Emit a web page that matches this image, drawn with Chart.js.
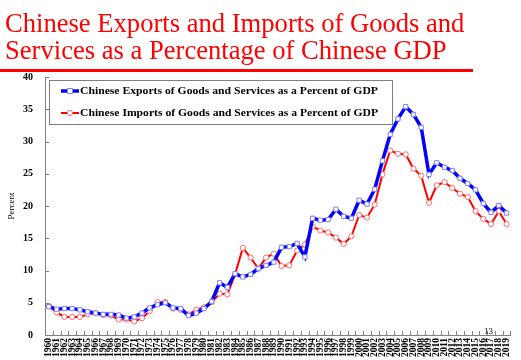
<!DOCTYPE html>
<html><head><meta charset="utf-8">
<script src="https://cdn.jsdelivr.net/npm/chart.js@4"></script>
<style>
html,body{margin:0;padding:0;background:#fff;}
#wrap{position:relative;width:521px;height:360px;overflow:hidden;background:#fff;}
#title{position:absolute;left:5px;top:10px;font-family:"Liberation Serif";font-size:26.6px;line-height:27px;color:#ff0000;white-space:nowrap;}
#rule{position:absolute;left:0;top:69px;width:473px;height:3px;background:#ff0000;}
#slide{position:absolute;left:484px;top:327px;font-family:"Liberation Serif";font-size:9px;line-height:9px;color:#000;}
canvas{position:absolute;left:0;top:0;}
</style></head>
<body><div id="wrap"><canvas id="c" width="521" height="360"></canvas>
<div id="title">Chinese Exports and Imports of Goods and<br>Services as a Percentage of Chinese GDP</div>
<div id="rule"></div>
<div id="slide">13</div>
</div>
<script>
const years = [];
for (let y = 1960; y <= 2019; y++) years.push(String(y));
const yTicks = [0,5,10,15,20,25,30,35,40];
const seriesLabels = [
  "Chinese Exports of Goods and Services as a Percent of GDP",
  "Chinese Imports of Goods and Services as a Percent of GDP"
];
const exportsPct = [4.4,4.0,4.1,4.1,3.9,3.6,3.4,3.2,3.2,3.1,
  2.6,2.8,3.4,4.2,4.7,5.0,4.2,4.1,3.0,3.4,
  4.1,5.2,8.1,7.4,9.5,9.0,9.4,10.3,10.8,11.3,
  13.6,13.7,14.2,12.1,18.1,17.8,17.9,19.5,18.4,18.1,
  20.9,20.3,22.6,27.0,31.1,33.5,35.4,34.2,32.2,24.9,
  26.7,26.0,25.5,24.3,23.5,22.5,20.4,19.0,20.1,18.9];
const importsPct = [4.5,3.5,2.8,2.8,2.8,3.2,3.4,3.1,3.0,2.4,
  2.4,2.1,2.6,3.7,5.1,5.1,4.1,3.9,3.2,3.9,
  4.3,5.1,6.4,6.3,9.4,13.5,12.0,10.3,12.0,12.6,
  10.7,10.8,13.1,14.0,16.8,16.2,15.9,15.1,14.1,15.3,
  18.6,18.2,20.2,24.9,28.6,28.1,28.0,25.8,24.7,20.5,
  23.2,23.7,22.8,21.9,21.4,19.2,18.0,17.2,19.2,17.2];

const expStyle = {line:'#0000ff', mark:'#8080ff', lw:3.5, shape:'rect'};
const impStyle = {line:'#ff0000', mark:'#ff6b6b', lw:2, shape:'circle'};

const innerTicks = {
  id:'innerTicks',
  afterDraw(chart){
    const ctx = chart.ctx, xs = chart.scales.x, ys = chart.scales.y;
    ctx.save();
    ctx.strokeStyle = '#808080'; ctx.lineWidth = 1;
    ctx.beginPath();
    yTicks.forEach(v => {
      const py = Math.round(ys.getPixelForValue(v)) + 0.5;
      ctx.moveTo(ys.right, py); ctx.lineTo(ys.right + 4, py);
    });
    const n = years.length, step = (xs.right - xs.left) / n;
    for (let i = 0; i <= n; i++) {
      const px = Math.round(xs.getPixelForValue(i) - step/2) + 0.5;
      ctx.moveTo(px, xs.top); ctx.lineTo(px, xs.top - 4);
    }
    ctx.stroke();
    ctx.restore();
  }
};

const boxLegend = {
  id:'boxLegend',
  afterDraw(chart){
    const ctx = chart.ctx;
    ctx.save();
    const bx = 49, by = 80, bw = 343, bh = 44;
    ctx.fillStyle = '#fff';
    ctx.fillRect(bx, by, bw, bh);
    ctx.strokeStyle = '#808080'; ctx.lineWidth = 1;
    ctx.strokeRect(bx + 0.5, by + 0.5, bw, bh);
    const styles = [expStyle, impStyle];
    chart.data.datasets.forEach((ds, i) => {
      const st = styles[i];
      const cy = 91 + i * 22;
      ctx.strokeStyle = st.line; ctx.lineWidth = st.lw;
      ctx.beginPath(); ctx.moveTo(61, cy); ctx.lineTo(79, cy); ctx.stroke();
      ctx.fillStyle = '#fff'; ctx.strokeStyle = st.mark; ctx.lineWidth = 1;
      ctx.beginPath();
      if (st.shape === 'rect') ctx.rect(67.5, cy - 2.5, 5, 5);
      else ctx.arc(70, cy, 2.6, 0, Math.PI * 2);
      ctx.fill(); ctx.stroke();
      ctx.fillStyle = '#000';
      ctx.font = 'bold 10px "Liberation Serif"';
      ctx.textBaseline = 'middle';
      ctx.save();
      ctx.translate(80, cy + 0.5);
      ctx.scale(298 / ctx.measureText(ds.label).width, 1);
      ctx.fillText(ds.label, 0, 0);
      ctx.restore();
    });
    ctx.restore();
  }
};

new Chart(document.getElementById('c'), {
  type:'line',
  data:{
    labels: years,
    datasets:[
      {label: seriesLabels[0], data: exportsPct, borderColor: expStyle.line, borderWidth: expStyle.lw,
       pointStyle:'rect', pointRadius:3, pointBorderColor: expStyle.mark, pointBackgroundColor:'#fff',
       pointBorderWidth:1, tension:0, fill:false},
      {label: seriesLabels[1], data: importsPct, borderColor: impStyle.line, borderWidth: impStyle.lw,
       pointStyle:'circle', pointRadius:2.6, pointBorderColor: impStyle.mark, pointBackgroundColor:'#fff',
       pointBorderWidth:1, tension:0, fill:false}
    ]
  },
  options:{
    responsive:false, animation:false,
    layout:{padding:{top:77, left:0, right:2, bottom:0}},
    plugins:{legend:{display:false}, tooltip:{enabled:false}},
    scales:{
      x:{
        type:'category', offset:true,
        grid:{display:true, drawOnChartArea:false, drawTicks:false},
        border:{display:true, color:'#808080', width:1},
        ticks:{autoSkip:false, minRotation:90, maxRotation:90, padding:3, color:'#000',
          font:{family:'"Liberation Serif"', size:9.5, weight:'bold'}},
        afterFit(s){ s.height = 25; }
      },
      y:{
        min:0, max:40,
        grid:{display:true, drawOnChartArea:false, drawTicks:false},
        border:{display:true, color:'#808080', width:1},
        ticks:{stepSize:5, padding:12, color:'#000',
          font:{family:'"Liberation Serif"', size:10, weight:'bold'}},
        title:{display:true, text:'Percent', color:'#000', padding:{top:6, bottom:0},
          font:{family:'"Liberation Serif"', size:9}},
        afterFit(s){ s.width = 45; }
      }
    }
  },
  plugins:[innerTicks, boxLegend]
});
</script>
</body></html>
